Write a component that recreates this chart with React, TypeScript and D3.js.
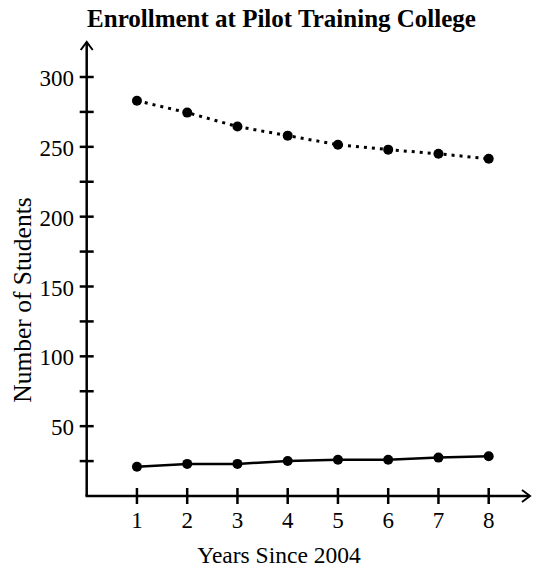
import React from "react";
import * as d3 from "d3";

const years = [1, 2, 3, 4, 5, 6, 7, 8];
const upperSeries = [283, 274.5, 264.5, 258, 251.5, 248, 245, 241.5];
const lowerSeries = [21, 23, 23, 25, 26, 26, 27.5, 28.5];
const yLabelTicks = [50, 100, 150, 200, 250, 300];
const yMinorTicks = [25, 75, 125, 175, 225, 275];
const xTicks = [1, 2, 3, 4, 5, 6, 7, 8];

const W = 535;
const H = 576;
const FONT = "'Liberation Serif', 'Times New Roman', serif";

export default function App() {
  const x = d3.scaleLinear().domain([0, 8]).range([86.7, 488.7]);
  const y = d3.scaleLinear().domain([0, 300]).range([496, 77]);
  const line = d3
    .line<number>()
    .x((_, i) => x(years[i]))
    .y((d) => y(d));
  const x0 = x(0);
  const y0 = y(0);
  const allYTicks = [...yLabelTicks, ...yMinorTicks];
  return (
    <svg
      width={W}
      height={H}
      style={{ position: "absolute", left: 0, top: 0, background: "#fff" }}
    >
      <text
        x={281.5}
        y={27}
        textAnchor="middle"
        fontFamily={FONT}
        fontWeight="bold"
        fontSize={25}
      >
        Enrollment at Pilot Training College
      </text>
      {/* axes */}
      <line x1={x0} y1={y0} x2={x0} y2={42} stroke="#000" strokeWidth={2.5} />
      <path
        d={`M${x0 - 6},${50} L${x0},${42} L${x0 + 6},${50}`}
        fill="none"
        stroke="#000"
        strokeWidth={2}
      />
      <line x1={x0 - 1.2} y1={y0} x2={530} y2={y0} stroke="#000" strokeWidth={2.5} />
      <path
        d={`M${522},${y0 - 6} L${530},${y0} L${522},${y0 + 6}`}
        fill="none"
        stroke="#000"
        strokeWidth={2}
      />
      {allYTicks.map((t) => (
        <line
          key={"yt" + t}
          x1={x0 - 7}
          x2={x0 + 7}
          y1={y(t)}
          y2={y(t)}
          stroke="#000"
          strokeWidth={2.5}
        />
      ))}
      {yLabelTicks.map((t) => (
        <text
          key={"yl" + t}
          x={74}
          y={y(t) + 9}
          textAnchor="end"
          fontFamily={FONT}
          fontSize={23}
        >
          {t}
        </text>
      ))}
      {xTicks.map((t) => (
        <g key={"xt" + t}>
          <line
            x1={x(t)}
            x2={x(t)}
            y1={y0 - 8}
            y2={y0 + 8}
            stroke="#000"
            strokeWidth={2.5}
          />
          <text
            x={x(t)}
            y={528}
            textAnchor="middle"
            fontFamily={FONT}
            fontSize={23}
          >
            {t}
          </text>
        </g>
      ))}
      <text
        x={279}
        y={563}
        textAnchor="middle"
        fontFamily={FONT}
        fontSize={23.5}
      >
        Years Since 2004
      </text>
      <text
        transform={`translate(31,300) rotate(-90)`}
        textAnchor="middle"
        fontFamily={FONT}
        fontSize={25.5}
      >
        Number of Students
      </text>
      {/* series */}
      <path
        d={line(upperSeries) || ""}
        fill="none"
        stroke="#000"
        strokeWidth={3}
        strokeDasharray="3,5"
      />
      <path
        d={line(lowerSeries) || ""}
        fill="none"
        stroke="#000"
        strokeWidth={2.5}
      />
      {upperSeries.map((v, i) => (
        <circle key={"u" + i} cx={x(years[i])} cy={y(v)} r={5} fill="#000" />
      ))}
      {lowerSeries.map((v, i) => (
        <circle key={"l" + i} cx={x(years[i])} cy={y(v)} r={5} fill="#000" />
      ))}
    </svg>
  );
}
